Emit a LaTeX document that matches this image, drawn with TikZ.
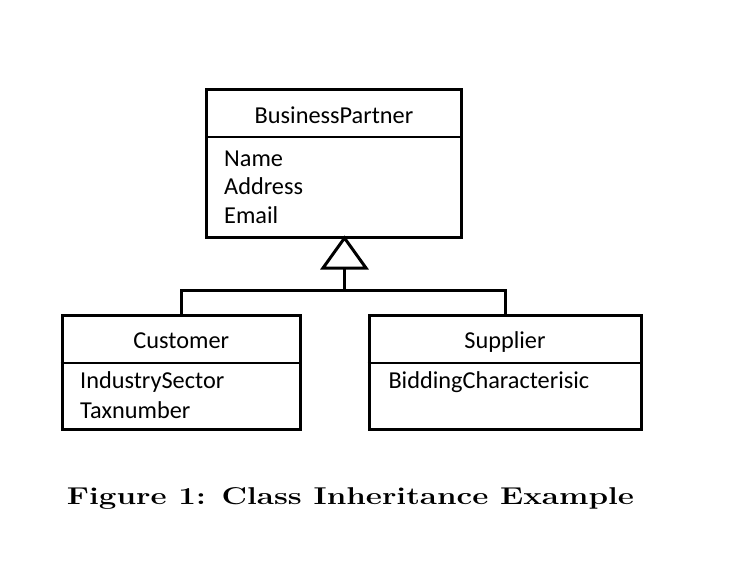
\documentclass[tikz,border=0pt]{standalone}
\usepackage{fontspec}
\usepackage{graphicx}
\setsansfont{Carlito}
\begin{document}
\begin{tikzpicture}[x=1pt,y=-1pt,
  box/.style={draw, line width=3pt, inner sep=0pt},
  divider/.style={line width=1.8pt},
  conn/.style={line width=3pt},
  title/.style={font=\sffamily\fontsize{24.3}{28}\selectfont, inner sep=0pt, anchor=base},
  attr/.style={font=\sffamily\fontsize{24.3}{28}\selectfont, inner sep=0pt, anchor=base west},
  figcap/.style={font=\bfseries\fontsize{24.3}{28}\selectfont, inner sep=0pt, anchor=base}]
\useasboundingbox (0,0) rectangle (750,574);
% BusinessPartner
\node[box, minimum width=255pt, minimum height=148pt] (bp) at (334,163.5) {};
\draw[divider] (bp.west |- 0,136.7) -- (bp.east |- 0,136.7);
\node[title] (bpt) at (334,123.3) {BusinessPartner};
\node[attr] (bpa1) at (224,166) {Name};
\node[attr] (bpa2) at (224,194.5) {Address};
\node[attr] (bpa3) at (224,223.3) {Email};
% Customer
\node[box, minimum width=238.5pt, minimum height=113.5pt] (cust) at (181.25,372.25) {};
\draw[divider] (cust.west |- 0,363) -- (cust.east |- 0,363);
\node[title] (custt) at (181.25,348.3) {Customer};
\node[attr] (ca1) at (80,388.3) {IndustrySector};
\node[attr] (ca2) at (80,418.3) {Taxnumber};
% Supplier
\node[box, minimum width=272pt, minimum height=113.5pt] (sup) at (505,372.25) {};
\draw[divider] (sup.west |- 0,363) -- (sup.east |- 0,363);
\node[title] (supt) at (505,348.3) {Supplier};
\node[attr] (sa1) at (388.3,388.3) {BiddingCharacterisic};
% inheritance
\coordinate (apex) at (344.5,238);
\coordinate (tb) at (344.5,268);
\coordinate (j) at (344.5,290);
\draw[conn, line join=miter] (apex) -- (323,268) -- (366,268) -- cycle;
\draw[conn] (tb) -- (j);
\draw[conn] (cust.north) |- (j) -| (sup.north);
% caption
\node[figcap] (caption) at (350.5,504.3) {\scalebox{1.29}[1]{Figure 1: Class Inheritance Example}};
\end{tikzpicture}
\end{document}
